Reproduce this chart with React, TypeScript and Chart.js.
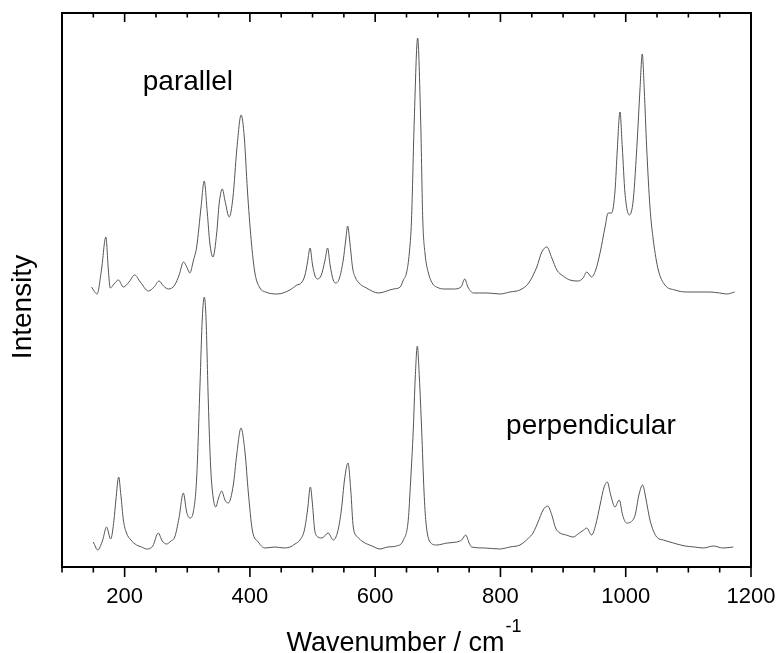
import React, { useEffect, useRef } from "react";
import { Chart, registerables } from "chart.js";

Chart.register(...registerables);

// ---- data (wavenumber in cm-1, intensity in arbitrary units) ----
const parallelWavenumber = [
  147, 156, 163, 170, 174, 177, 183, 190, 198, 207, 216, 225, 238, 247, 255, 262, 270, 280, 287, 294,
  300, 304, 310, 315, 322, 327, 332, 336, 341, 347, 351, 356, 360, 367, 373, 379, 386, 391, 396, 402,
  408, 416, 425, 443, 464, 475, 482, 488, 492, 496, 500, 504, 508, 514, 520, 524, 528, 533, 537, 543,
  549, 553, 556, 560, 564, 568, 576, 586, 605, 629, 640, 645, 650, 654.5, 658, 662.4, 667.8, 672.6, 676, 679.5,
  685, 692, 698, 710, 725, 737, 743, 748, 757, 780, 799, 815, 831, 845, 858, 866, 874, 882, 890, 900,
  911, 924, 932, 937.6, 945.6, 952, 959, 967, 972, 977.5, 983, 986.5, 990.8, 994.5, 998.8, 1005.7, 1012, 1018.4, 1022.7, 1026.4,
  1029.6, 1033.4, 1038.7, 1044, 1052, 1062.6, 1078.6, 1097, 1115, 1134.5, 1150, 1161, 1174,
];
const parallelIntensity = [
  280, 273, 297, 330, 297, 279, 283, 287, 280, 285, 292, 285, 276, 280, 286, 281, 278, 282, 292, 305,
  299, 294, 307, 320, 360, 386, 354, 324, 310, 334, 364, 378, 367, 350, 370, 417, 452, 430, 377, 327,
  294, 279, 275, 273, 277, 282, 284, 292, 305, 319, 302, 291, 288, 292, 307, 319, 302, 287, 284, 289,
  307, 327, 341, 322, 299, 290, 283, 279, 274, 278, 280, 287, 294, 314, 347, 447, 529, 447, 347, 314,
  294, 283, 280, 278, 278, 280, 288, 280, 274, 274, 273, 275, 277, 284, 300, 315, 320, 309, 297, 291,
  287, 286, 289, 295, 290, 297, 314, 340, 354, 354, 377, 417, 455, 420, 374, 352, 367, 427, 477, 513,
  477, 420, 360, 327, 297, 282, 277, 275, 275, 275, 274, 273, 275,
];

const perpWavenumber = [
  150, 157, 165, 171, 177.7, 183, 186, 190.5, 194, 198, 203, 210, 219, 227, 235, 245, 253.7, 260, 267, 274,
  280, 286.8, 293.7, 299, 304.3, 309.6, 315, 320.3, 324, 327.2, 329.9, 333.6, 337.4, 341.5, 345.4, 350, 354.9, 360.2, 365.5, 373.5,
  378.9, 385.8, 392.1, 397.4, 403.8, 413.4, 424, 440, 455, 464, 472, 480, 487, 492, 496.5, 500, 503, 506.6, 515, 525,
  533, 540, 546, 551, 556.6, 561, 565, 572, 581, 595, 607.7, 620, 634, 645, 652.8, 656.5, 660.8, 664, 667.3, 670.5,
  674.2, 678, 681, 687.5, 698, 715, 730, 738, 744.5, 750, 754, 775, 799, 815, 831, 845, 852, 860, 868, 875.3,
  882, 888, 895, 905, 916, 926, 933, 937.6, 945.6, 952, 959, 965, 970.6, 976, 982.8, 989.7, 995, 1001.4, 1008, 1015,
  1021, 1027, 1032, 1038.7, 1049.4, 1060, 1076, 1094.6, 1110, 1123.8, 1140, 1155, 1171.7,
];
const perpIntensity = [
  25, 17, 27, 40, 28, 47, 67, 90, 72, 47, 34, 27, 22, 20, 18, 21, 34, 26, 23, 26,
  30, 49, 74, 55, 49, 55, 89, 182, 249, 270, 249, 165, 99, 69, 60, 69, 76, 67, 64, 82,
  112, 139, 115, 75, 37, 25, 19, 20, 19, 20, 23, 27, 37, 57, 80, 62, 39, 31, 29, 34,
  27, 35, 57, 87, 104, 77, 40, 30, 25, 21, 18, 20, 21, 27, 47, 85, 137, 190, 221, 190,
  137, 75, 45, 25, 22, 24, 25, 27, 32, 24, 20, 19, 18, 20, 22, 29, 34, 45, 57, 61,
  52, 39, 34, 32, 30, 34, 37, 39, 32, 42, 62, 79, 85, 72, 60, 67, 52, 44, 45, 52,
  72, 82, 69, 47, 30, 27, 24, 21, 20, 19, 21, 19, 20,
];

const X_MIN = 100;
const X_MAX = 1200;
const MINOR_STEP = 50;
const majorTicks = [200, 400, 600, 800, 1000, 1200];
const Y_MIN = 0;
const Y_MAX = 554;

const labelParallel = { text: "parallel", x: 229, y: 477 };
const labelPerp = { text: "perpendicular", x: 809, y: 133 };

const FONT = "'Liberation Sans', Arial, Helvetica, sans-serif";
const LINE_COLOR = "#555555";

const decorPlugin = {
  id: "decor",
  afterDraw(chart: any) {
    const { ctx, chartArea: a } = chart;
    const xs = chart.scales.x;
    const ys = chart.scales.y;
    ctx.save();
    // frame
    ctx.strokeStyle = "#000";
    ctx.lineWidth = 2;
    ctx.strokeRect(a.left, a.top, a.right - a.left, a.bottom - a.top);
    // ticks: outward at bottom, inward at top
    ctx.lineWidth = 1.6;
    ctx.beginPath();
    for (let v = X_MIN; v <= X_MAX; v += MINOR_STEP) {
      const px = xs.getPixelForValue(v);
      const major = majorTicks.includes(v);
      ctx.moveTo(px, a.bottom);
      ctx.lineTo(px, a.bottom + (major ? 10 : 5.5));
      ctx.moveTo(px, a.top);
      ctx.lineTo(px, a.top + (major ? 9 : 4.5));
    }
    ctx.stroke();

    // annotations
    ctx.fillStyle = "#000";
    ctx.textAlign = "left";
    ctx.textBaseline = "alphabetic";
    ctx.font = `28px ${FONT}`;
    for (const l of [labelParallel, labelPerp]) {
      ctx.fillText(l.text, xs.getPixelForValue(l.x), ys.getPixelForValue(l.y));
    }

    // x title with superscript
    const main = "Wavenumber / cm";
    const sup = "-1";
    ctx.font = `27px ${FONT}`;
    const wMain = ctx.measureText(main).width;
    ctx.font = `18px ${FONT}`;
    const wSup = ctx.measureText(sup).width;
    const cx = (a.left + a.right) / 2 - 3;
    const startX = cx - (wMain + wSup) / 2;
    const baseY = chart.height - 2;
    ctx.font = `27px ${FONT}`;
    ctx.fillText(main, startX, baseY);
    ctx.font = `18px ${FONT}`;
    ctx.fillText(sup, startX + wMain + 1, baseY - 19);

    // y title
    ctx.save();
    ctx.translate(31, 307);
    ctx.rotate(-Math.PI / 2);
    ctx.textAlign = "center";
    ctx.font = `28px ${FONT}`;
    ctx.fillText("Intensity", 0, 0);
    ctx.restore();

    ctx.restore();
  },
};

export default function App() {
  const ref = useRef<HTMLCanvasElement | null>(null);
  useEffect(() => {
    if (!ref.current) return;
    const toPoints = (xs: number[], ys: number[]) => xs.map((x, i) => ({ x, y: ys[i] }));
    const chart = new Chart(ref.current, {
      type: "line",
      data: {
        datasets: [
          {
            label: "parallel",
            data: toPoints(parallelWavenumber, parallelIntensity),
            borderColor: LINE_COLOR,
            borderWidth: 1,
            pointRadius: 0,
            fill: false,
            cubicInterpolationMode: "monotone",
          },
          {
            label: "perpendicular",
            data: toPoints(perpWavenumber, perpIntensity),
            borderColor: LINE_COLOR,
            borderWidth: 1,
            pointRadius: 0,
            fill: false,
            cubicInterpolationMode: "monotone",
          },
        ],
      },
      options: {
        responsive: false,
        animation: false,
        layout: { padding: { left: 62, top: 13, right: 28, bottom: 0 } },
        plugins: { legend: { display: false }, tooltip: { enabled: false } },
        scales: {
          x: {
            type: "linear",
            min: X_MIN,
            max: X_MAX,
            grid: { display: false, drawTicks: false },
            border: { display: false },
            ticks: {
              stepSize: MINOR_STEP,
              autoSkip: false,
              maxRotation: 0,
              padding: 17,
              color: "#000",
              font: { family: FONT, size: 22 },
              callback: (v: any) => (majorTicks.includes(Number(v)) ? String(v) : ""),
            },
            afterFit: (scale: any) => {
              scale.height = 86;
              scale.paddingLeft = 0;
              scale.paddingRight = 0;
            },
          },
          y: {
            display: false,
            min: Y_MIN,
            max: Y_MAX,
          },
        },
      },
      plugins: [decorPlugin],
    });
    return () => chart.destroy();
  }, []);
  return (
    <div style={{ position: "fixed", left: 0, top: 0, width: 779, height: 653, background: "#fff" }}>
      <canvas ref={ref} width={779} height={653} style={{ display: "block" }} />
    </div>
  );
}
